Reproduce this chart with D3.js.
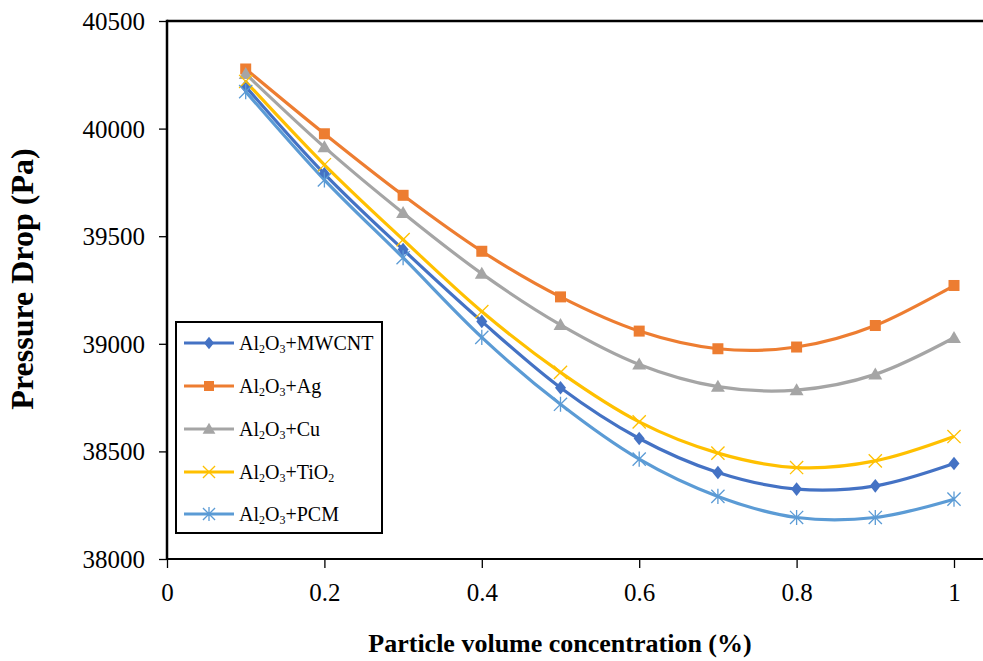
<!DOCTYPE html>
<html>
<head>
<meta charset="utf-8">
<script src="https://cdn.jsdelivr.net/npm/d3@7"></script>
<style>
  html, body { margin: 0; padding: 0; background: #fff; }
  svg { display: block; }
  svg text { font-family: "Liberation Serif", "DejaVu Serif", serif !important; fill: #000; }
</style>
</head>
<body>
<svg id="chart" width="983" height="661" font-family="Liberation Serif, serif"></svg>
<script>
// ---- data ----
const concentrations = [0.1, 0.2, 0.3, 0.4, 0.5, 0.6, 0.7, 0.8, 0.9, 1.0];
const mwcnt = [40195, 39790, 39438, 39104, 38796, 38560, 38402, 38325, 38340, 38444];
const ag    = [40277, 39976, 39690, 39430, 39218, 39059, 38977, 38985, 39085, 39271];
const cu    = [40254, 39914, 39608, 39326, 39088, 38904, 38801, 38785, 38858, 39028];
const tio2  = [40219, 39832, 39484, 39150, 38867, 38637, 38492, 38425, 38456, 38569];
const pcm   = [40172, 39762, 39400, 39030, 38719, 38464, 38291, 38193, 38193, 38278];
const seriesNames = ["MWCNT", "Ag", "Cu", "TiO2", "PCM"];
const xTicks = [0, 0.2, 0.4, 0.6, 0.8, 1];
const yTicks = [38000, 38500, 39000, 39500, 40000, 40500];

const seriesValues = [mwcnt, ag, cu, tio2, pcm];
const colors  = ["#4472C4", "#ED7D31", "#A5A5A5", "#FFC000", "#5B9BD5"];
const markers = ["diamond", "square", "triangle", "x", "asterisk"];

const svg = d3.select("#chart");
const L = 167, R = 954, T = 21, B = 559;
const x = d3.scaleLinear().domain([0, 1]).range([L, R]);
const y = d3.scaleLinear().domain([38000, 40500]).range([B, T]);

// frame (top border & axes extend to the right edge)
svg.append("line").attr("x1", L).attr("x2", 990).attr("y1", T).attr("y2", T)
  .attr("stroke", "#000").attr("stroke-width", 2.5);

// y axis
const yAxis = svg.append("g").attr("transform", `translate(${L},0)`)
  .call(d3.axisLeft(y).tickValues(yTicks).tickSize(8).tickFormat(d3.format("d")));
yAxis.attr("font-family", null);
yAxis.select(".domain").remove();
yAxis.selectAll(".tick line").attr("stroke", "#000").attr("stroke-width", 1.3);
yAxis.selectAll(".tick text").attr("x", -22).attr("dy", "0.34em")
  .style("font-size", "25px").attr("fill", "#000");
svg.append("line").attr("x1", L).attr("x2", L).attr("y1", T - 1.2).attr("y2", B + 1)
  .attr("stroke", "#000").attr("stroke-width", 2.5);

// x axis
const xAxis = svg.append("g").attr("transform", `translate(0,${B})`)
  .call(d3.axisBottom(x).tickValues(xTicks).tickSize(9).tickFormat(d => d3.format("")(d)));
xAxis.attr("font-family", null);
xAxis.select(".domain").remove();
xAxis.selectAll(".tick line").attr("stroke", "#000").attr("stroke-width", 1.3);
xAxis.selectAll(".tick text").attr("y", 42).attr("dy", 0)
  .style("font-size", "25px").attr("fill", "#000");
svg.append("line").attr("x1", L - 1).attr("x2", 990).attr("y1", B).attr("y2", B)
  .attr("stroke", "#000").attr("stroke-width", 2.2);

// axis titles
svg.append("text").attr("x", 560).attr("y", 652).attr("text-anchor", "middle")
  .style("font-size", "26px").style("font-weight", "bold")
  .text("Particle volume concentration (%)");
svg.append("text").attr("transform", "translate(33,279) rotate(-90)").attr("text-anchor", "middle")
  .style("font-size", "32px").style("font-weight", "bold")
  .text("Pressure Drop (Pa)");

// markers
function drawMarker(g, type, color, cx, cy, s) {
  if (type === "diamond") {
    g.append("path").attr("d", `M${cx},${cy - s * 0.62}L${cx + s * 0.5},${cy}L${cx},${cy + s * 0.62}L${cx - s * 0.5},${cy}Z`)
      .attr("fill", color);
  } else if (type === "square") {
    g.append("rect").attr("x", cx - s / 2).attr("y", cy - s / 2).attr("width", s).attr("height", s).attr("fill", color);
  } else if (type === "triangle") {
    const h = s * 0.95;
    g.append("path").attr("d", `M${cx},${cy - h * 0.6}L${cx + s * 0.58},${cy + h * 0.45}L${cx - s * 0.58},${cy + h * 0.45}Z`)
      .attr("fill", color);
  } else if (type === "x") {
    const r = s * 0.55;
    g.append("path").attr("d", `M${cx - r},${cy - r}L${cx + r},${cy + r}M${cx - r},${cy + r}L${cx + r},${cy - r}`)
      .attr("stroke", color).attr("stroke-width", 1.3).attr("fill", "none");
  } else if (type === "asterisk") {
    const r = s * 0.55;
    g.append("path").attr("d", `M${cx - r},${cy - r}L${cx + r},${cy + r}M${cx - r},${cy + r}L${cx + r},${cy - r}M${cx},${cy - r * 1.15}L${cx},${cy + r * 1.15}`)
      .attr("stroke", color).attr("stroke-width", 1.3).attr("fill", "none");
  }
}

const line = d3.line().x(d => x(d[0])).y(d => y(d[1])).curve(d3.curveCardinal.tension(0));
const sizes = [11, 11, 12, 12, 12];

seriesValues.forEach((vals, i) => {
  const pts = concentrations.map((c, j) => [c, vals[j]]);
  svg.append("path").datum(pts).attr("d", line).attr("fill", "none")
    .attr("stroke", colors[i]).attr("stroke-width", 3.2).attr("stroke-linejoin", "round");
});
seriesValues.forEach((vals, i) => {
  const g = svg.append("g");
  concentrations.forEach((c, j) => drawMarker(g, markers[i], colors[i], x(c), y(vals[j]), sizes[i]));
});

// legend
const lg = svg.append("g");
lg.append("rect").attr("x", 176).attr("y", 322).attr("width", 206).attr("height", 211)
  .attr("fill", "#fff").attr("stroke", "#000").attr("stroke-width", 2);
const rowY = [343, 386, 429, 472, 514];
seriesNames.forEach((name, i) => {
  const cy = rowY[i];
  lg.append("line").attr("x1", 184).attr("x2", 234).attr("y1", cy).attr("y2", cy)
    .attr("stroke", colors[i]).attr("stroke-width", 3.2);
  drawMarker(lg, markers[i], colors[i], 209, cy, sizes[i] - 1);
  const t = lg.append("text").attr("x", 239).attr("y", cy + 7).style("font-size", "20px");
  t.append("tspan").text("Al");
  t.append("tspan").attr("dy", 3).style("font-size", "12px").text("2");
  t.append("tspan").attr("dy", -3).text("O");
  t.append("tspan").attr("dy", 3).style("font-size", "12px").text("3");
  if (name === "TiO2") {
    t.append("tspan").attr("dy", -3).text("+TiO");
    t.append("tspan").attr("dy", 3).style("font-size", "12px").text("2");
  } else {
    t.append("tspan").attr("dy", -3).text("+" + name);
  }
});
</script>
</body>
</html>
